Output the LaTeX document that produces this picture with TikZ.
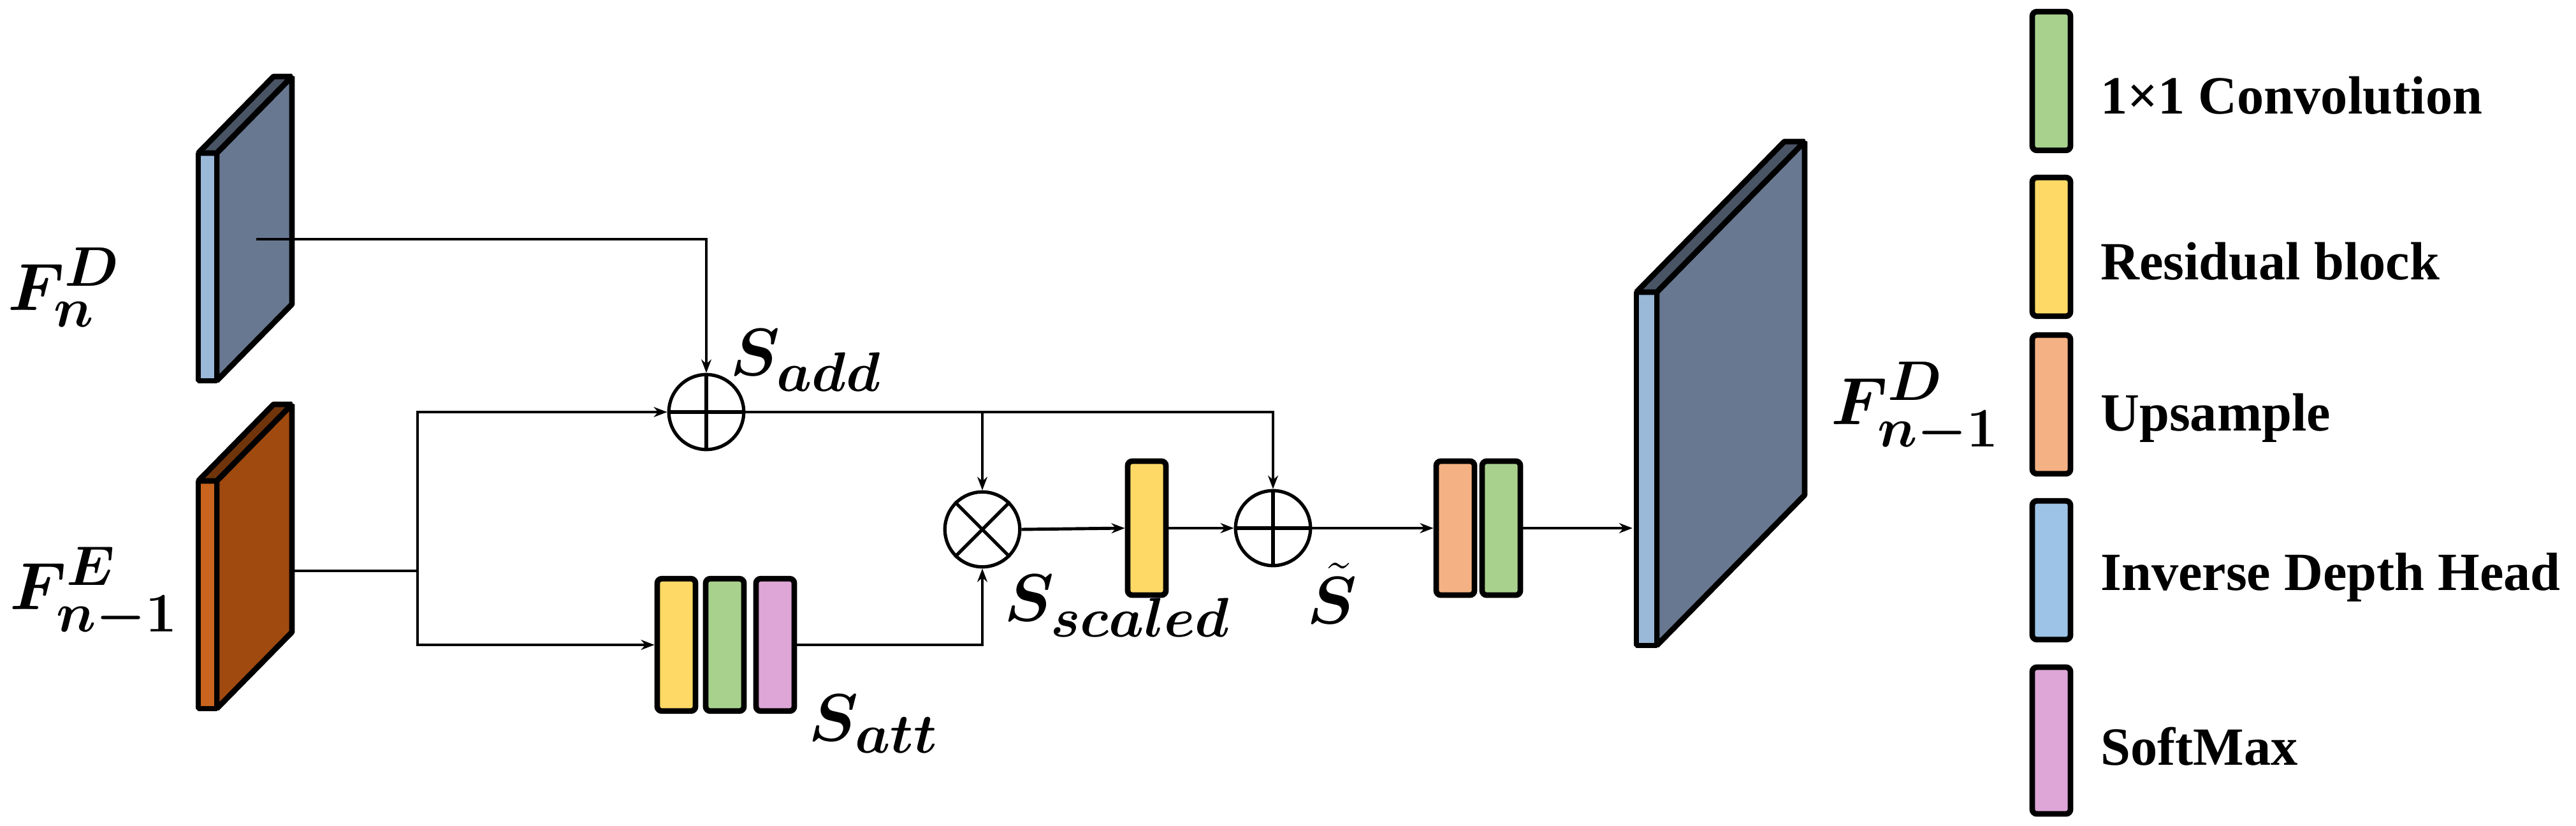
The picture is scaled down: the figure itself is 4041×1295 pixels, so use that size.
\documentclass[tikz,border=0pt]{standalone}
\usepackage{fontspec}
\usepackage{amsmath,bm}
\newfontfamily\legfont{Liberation Serif}
\usetikzlibrary{arrows.meta}
\definecolor{slate}{HTML}{687890}
\definecolor{slatel}{HTML}{9AB8D8}
\definecolor{rust}{HTML}{A04A10}
\definecolor{rustl}{HTML}{C8641E}
\definecolor{cyel}{HTML}{FFD966}
\definecolor{cgrn}{HTML}{A9D18E}
\definecolor{cpnk}{HTML}{DDA6D6}
\definecolor{corg}{HTML}{F4B183}
\definecolor{cblu}{HTML}{9DC3E6}
\tikzset{
  blk/.style={draw,line width=5pt,rounded corners=4pt,minimum width=1.2cm,minimum height=4.15cm,inner sep=0pt},
  leg/.style={blk,minimum height=4.35cm},
  op/.style={circle,draw,line width=3pt,minimum size=2.35cm,inner sep=0pt},
  con/.style={line width=2.8pt,-{Stealth[length=12pt,width=9pt]}},
  ln/.style={line width=2.8pt},
  mlab/.style={font=\Huge,scale=2.4,inner sep=0pt},
  ltxt/.style={font=\fontsize{48}{56}\selectfont\legfont\bfseries,anchor=west,inner sep=0pt},
  pan/.style={line width=5pt,line join=bevel}
}
\newcommand{\mypanel}[8]{% x0 x1 top bot dx dy facecol stripcol
  \fill[#7] (#2,#3)--++(#5,#6)--(#2+#5,#4+#6)--(#2,#4)--cycle;
  \draw[pan] (#2,#3)--++(#5,#6)--(#2+#5,#4+#6)--(#2,#4)--cycle;
  \draw[pan,fill=#8] (#1,#3) rectangle (#2,#4);
  \draw[pan,fill=#7!70!black] (#1,#3)--++(#5,#6)--(#2+#5,#3+#6)--(#2,#3)--cycle;
}
\begin{document}
\begin{tikzpicture}[x=0.02cm,y=-0.02cm]
\useasboundingbox (0,0) rectangle (4041,1295);
% panels
\mypanel{311}{340}{240}{597}{118}{-120}{slate}{slatel}
\mypanel{311}{340}{754}{1111}{118}{-120}{rust}{rustl}
\mypanel{2567}{2599}{458}{1012}{232}{-236}{slate}{slatel}
\coordinate (fnd) at (402,375);
\coordinate (fne) at (458,895);
\coordinate (br) at (655,895);
\coordinate (bp) at (2561,828);
% labels
\node[mlab] at (100,450) {$\bm{F}_{\bm{n}}^{\bm{D}}$};
\node[mlab] at (148,930) {$\bm{F}_{\bm{n-1}}^{\bm{E}}$};
\node[mlab] at (3005,640) {$\bm{F}_{\bm{n-1}}^{\bm{D}}$};
% operators
\node[op] (add) at (1108,646) {};
\draw[line width=3pt] (add.north)--(add.south) (add.west)--(add.east);
\node[op] (mul) at (1541,830) {};
\draw[line width=3pt] (mul.north west)--(mul.south east) (mul.north east)--(mul.south west);
\node[op] (add2) at (1997,828) {};
\draw[line width=3pt] (add2.north)--(add2.south) (add2.west)--(add2.east);
% blocks
\node[blk,fill=cyel] (y1) at (1061,1011) {};
\node[blk,fill=cgrn] (g1) at (1137,1011) {};
\node[blk,fill=cpnk] (p1) at (1216,1011) {};
\node[blk,fill=cyel,minimum height=4.2cm] (y2) at (1799,828) {};
\node[blk,fill=corg,minimum height=4.2cm] (o1) at (2283,828) {};
\node[blk,fill=cgrn,minimum height=4.2cm] (g2) at (2355,828) {};
\node[mlab,anchor=west] at (1145,565) {$\bm{S}_{\bm{add}}$};
\node[mlab,anchor=west] at (1268,1135) {$\bm{S}_{\bm{att}}$};
\node[mlab,anchor=west] at (1575,950) {$\bm{S}_{\bm{scaled}}$};
\node[mlab] at (2090,930) {$\tilde{\bm{S}}$};
% connectors
\draw[con] (fnd) -| (add.north);
\draw[ln] (fne) -- (br);
\draw[con] (br) |- (add.west);
\draw[con] (br) |- (y1.west);
\coordinate (j1) at (mul.north |- add.east);
\draw[con] (add.east) -| (add2.north);
\draw[con] (j1) -- (mul.north);
\draw[con] (p1.east) -| (mul.south);
\draw[con] (mul.east) -- (y2.west);
\draw[con] (y2.east) -- (add2.west);
\draw[con] (add2.east) -- (o1.west);
\draw[con] (g2.east) -- (bp);
% legend
\node[leg,fill=cgrn] (l1) at (3218,127) {};
\node[leg,fill=cyel] (l2) at (3218,387) {};
\node[leg,fill=corg] (l3) at (3218,634) {};
\node[leg,fill=cblu] (l4) at (3218,894) {};
\node[leg,fill=cpnk,minimum height=4.6cm] (l5) at (3218,1161) {};
\node[ltxt] at (3295,150) {1×1 Convolution};
\node[ltxt] at (3295,410) {Residual block};
\node[ltxt] at (3295,655) {Upsample};
\node[ltxt] at (3295,905) {Inverse Depth Head};
\node[ltxt] at (3295,1170) {SoftMax};
\end{tikzpicture}
\end{document}
